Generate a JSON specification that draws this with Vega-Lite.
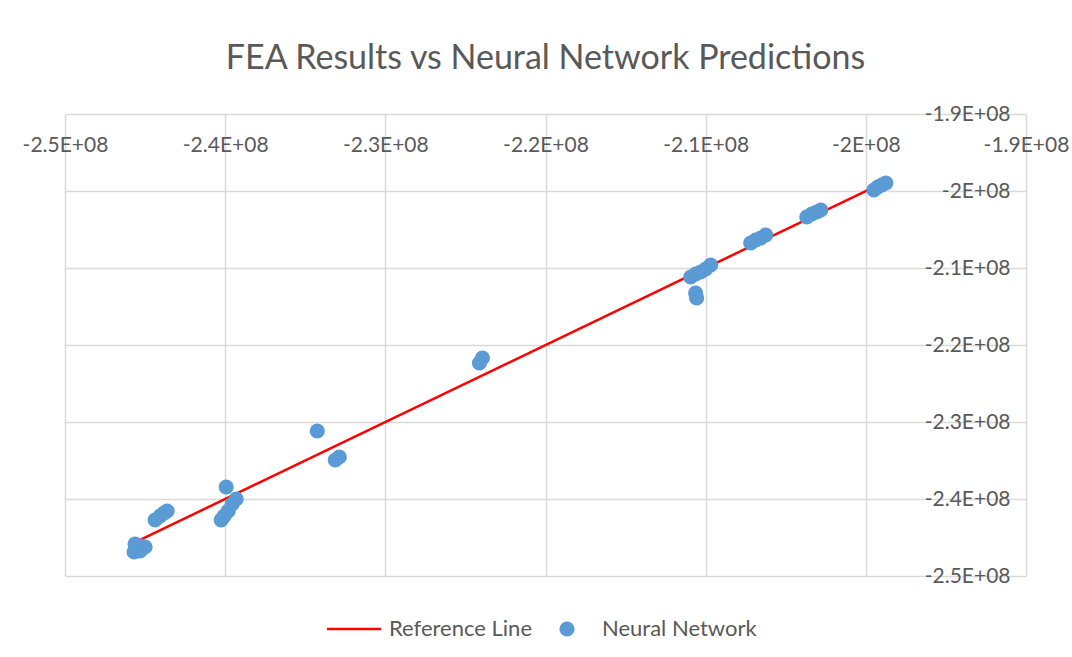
{
  "$schema": "https://vega.github.io/schema/vega-lite/v6.json",
  "width": 961,
  "height": 462,
  "autosize": {"type": "none"},
  "padding": {"left": 65, "top": 114, "right": 46, "bottom": 81},
  "background": "white",
  "title": {
    "text": "FEA Results vs Neural Network Predictions",
    "font": "Lato",
    "fontSize": 34,
    "fontWeight": "normal",
    "color": "#595959",
    "anchor": "middle",
    "baseline": "alphabetic",
    "offset": 0
  },
  "data": {
    "values": [
      {"series": "Reference Line", "fea": -245600000, "nn": -245600000},
      {"series": "Reference Line", "fea": -198800000, "nn": -198800000},
      {"series": "Neural Network", "fea": -245625000, "nn": -245844000},
      {"series": "Neural Network", "fea": -245687500, "nn": -246883000},
      {"series": "Neural Network", "fea": -245250000, "nn": -246104000},
      {"series": "Neural Network", "fea": -245000000, "nn": -246234000},
      {"series": "Neural Network", "fea": -245312500, "nn": -246753000},
      {"series": "Neural Network", "fea": -244375000, "nn": -242727000},
      {"series": "Neural Network", "fea": -244062500, "nn": -242208000},
      {"series": "Neural Network", "fea": -243812500, "nn": -241818000},
      {"series": "Neural Network", "fea": -243625000, "nn": -241558000},
      {"series": "Neural Network", "fea": -239937500, "nn": -238442000},
      {"series": "Neural Network", "fea": -240250000, "nn": -242727000},
      {"series": "Neural Network", "fea": -240062500, "nn": -242208000},
      {"series": "Neural Network", "fea": -239812500, "nn": -241558000},
      {"series": "Neural Network", "fea": -239562500, "nn": -240649000},
      {"series": "Neural Network", "fea": -239312500, "nn": -240000000},
      {"series": "Neural Network", "fea": -234250000, "nn": -231169000},
      {"series": "Neural Network", "fea": -233125000, "nn": -234935000},
      {"series": "Neural Network", "fea": -232875000, "nn": -234545000},
      {"series": "Neural Network", "fea": -224125000, "nn": -222338000},
      {"series": "Neural Network", "fea": -223937500, "nn": -221688000},
      {"series": "Neural Network", "fea": -210937500, "nn": -211169000},
      {"series": "Neural Network", "fea": -210625000, "nn": -210779000},
      {"series": "Neural Network", "fea": -210312500, "nn": -210519000},
      {"series": "Neural Network", "fea": -210000000, "nn": -210130000},
      {"series": "Neural Network", "fea": -209687500, "nn": -209610000},
      {"series": "Neural Network", "fea": -210625000, "nn": -213247000},
      {"series": "Neural Network", "fea": -210562500, "nn": -213896000},
      {"series": "Neural Network", "fea": -207187500, "nn": -206753000},
      {"series": "Neural Network", "fea": -206875000, "nn": -206364000},
      {"series": "Neural Network", "fea": -206562500, "nn": -206104000},
      {"series": "Neural Network", "fea": -206250000, "nn": -205714000},
      {"series": "Neural Network", "fea": -203687500, "nn": -203377000},
      {"series": "Neural Network", "fea": -203375000, "nn": -202987000},
      {"series": "Neural Network", "fea": -203062500, "nn": -202727000},
      {"series": "Neural Network", "fea": -202812500, "nn": -202468000},
      {"series": "Neural Network", "fea": -199500000, "nn": -199870000},
      {"series": "Neural Network", "fea": -199250000, "nn": -199481000},
      {"series": "Neural Network", "fea": -199000000, "nn": -199221000},
      {"series": "Neural Network", "fea": -198750000, "nn": -198961000}
    ]
  },
  "encoding": {
    "x": {
      "field": "fea",
      "type": "quantitative",
      "scale": {"domain": [-250000000, -190000000], "nice": false, "zero": false},
      "axis": {
        "orient": "top",
        "title": null,
        "values": [-250000000, -240000000, -230000000, -220000000, -210000000, -200000000, -190000000],
        "labelExpr": "(datum.value < 0 ? '-' : '') + format(abs(datum.value) / 1e8, '.2~r') + 'E+08'",
        "labelPadding": -31,
        "labelBaseline": "middle",
        "labelAlign": "center",
        "ticks": false,
        "tickSize": 0,
        "domain": false,
        "labelFlush": false,
        "labelOverlap": false,
        "labelBound": false
      }
    },
    "y": {
      "field": "nn",
      "type": "quantitative",
      "scale": {"domain": [-250000000, -190000000], "nice": false, "zero": false},
      "axis": {
        "orient": "right",
        "title": null,
        "values": [-250000000, -240000000, -230000000, -220000000, -210000000, -200000000, -190000000],
        "labelExpr": "(datum.value < 0 ? '-' : '') + format(abs(datum.value) / 1e8, '.2~r') + 'E+08'",
        "labelPadding": -16,
        "labelAlign": "right",
        "labelBaseline": "middle",
        "ticks": false,
        "tickSize": 0,
        "domain": false,
        "labelFlush": false,
        "labelOverlap": false,
        "labelBound": false
      }
    },
    "color": {
      "field": "series",
      "type": "nominal",
      "scale": {"domain": ["Reference Line", "Neural Network"], "range": ["#FF0000", "#5B9BD5"]},
      "legend": {
        "title": null,
        "orient": "none",
        "legendX": 278,
        "legendY": 504,
        "direction": "horizontal",
        "labelOffset": 24,
        "columnPadding": 23,
        "encode": {
          "symbols": {
            "update": {
              "shape": {"signal": "datum.value === 'Reference Line' ? 'stroke' : 'circle'"},
              "size": {"signal": "datum.value === 'Reference Line' ? 2916 : 230"},
              "fill": {"signal": "datum.value === 'Reference Line' ? 'transparent' : '#5B9BD5'"},
              "stroke": {"signal": "datum.value === 'Reference Line' ? '#FF0000' : 'transparent'"},
              "strokeWidth": {"signal": "datum.value === 'Reference Line' ? 2.5 : 0"},
              "opacity": {"value": 1}
            }
          }
        }
      }
    }
  },
  "layer": [
    {
      "transform": [{"filter": "datum.series === 'Reference Line'"}],
      "mark": {"type": "line", "strokeWidth": 2.5}
    },
    {
      "transform": [{"filter": "datum.series === 'Neural Network'"}],
      "mark": {"type": "point", "filled": true, "size": 230, "opacity": 1, "shape": "circle"}
    }
  ],
  "config": {
    "view": {"stroke": null},
    "axis": {
      "labelFont": "Lato",
      "labelFontSize": 21,
      "labelColor": "#595959",
      "gridColor": "#D9D9D9",
      "gridWidth": 1.5,
      "grid": true
    },
    "legend": {
      "labelFont": "Lato",
      "labelFontSize": 22,
      "labelColor": "#595959"
    }
  }
}
